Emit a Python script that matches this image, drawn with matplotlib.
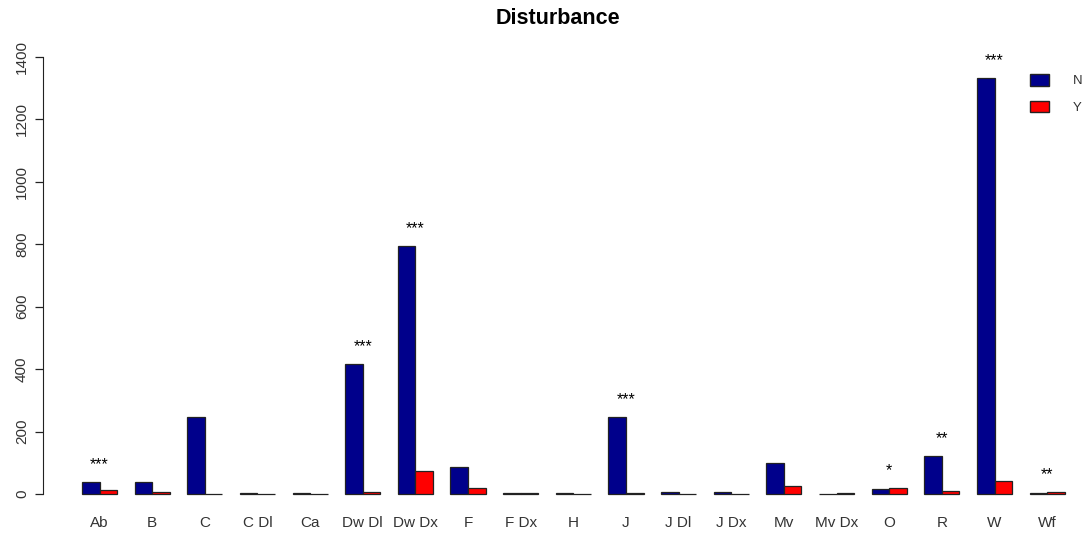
import numpy as np
import matplotlib.pyplot as plt
from matplotlib.patches import Patch

# values
categories = ["Ab", "B", "C", "C Dl", "Ca", "Dw Dl", "Dw Dx", "F", "F Dx", "H",
              "J", "J Dl", "J Dx", "Mv", "Mv Dx", "O", "R", "W", "Wf"]
n_values = [38, 38, 246, 2, 2, 416, 794, 88, 2, 2,
            246, 5, 8, 99, 0, 15, 122, 1334, 3]
y_values = [13, 6, 0, 0, 0, 6, 74, 19, 2, 0,
            2, 0, 0, 26, 2, 19, 10, 42, 6]
stars = ["***", "", "", "", "", "***", "***", "", "", "",
         "***", "", "", "", "", "*", "**", "***", "**"]
yticks = [0, 200, 400, 600, 800, 1000, 1200, 1400]

plt.rcParams['font.family'] = ['Liberation Sans', 'DejaVu Sans']

fig = plt.figure(figsize=(10.84, 5.34), dpi=100)
ax = fig.add_axes([43 / 1084, 0.0421, 1 - 43 / 1084, 0.884])

# R style barplot(beside=TRUE): each group = 1 unit gap + 2 bars
idx = np.arange(len(categories))
left_n = 3 * idx + 1
ax.bar(left_n, n_values, width=1, align='edge', color='#00008B',
       edgecolor='#222222', linewidth=0.9)
ax.bar(left_n + 1, y_values, width=1, align='edge', color='#FF0000',
       edgecolor='#222222', linewidth=0.9)

for i, s in enumerate(stars):
    if s:
        top = max(n_values[i], y_values[i])
        ax.text(3 * i + 2, top + 55, s, ha='center', va='center', fontsize=11.5, color='black')

ax.set_xlim(-1.22, 58.1)
ax.set_ylim(-56, 1456)

for sp in ['top', 'right', 'bottom']:
    ax.spines[sp].set_visible(False)
ax.spines['left'].set_bounds(0, 1400)
ax.spines['left'].set_color('#222222')

ax.set_yticks(yticks)
ax.set_yticklabels([str(t) for t in yticks], rotation=90, va='center', fontsize=11, color='#333333')
ax.tick_params(axis='y', length=6, width=0.9, color='#222222', pad=4)

ax.set_xticks(3 * idx + 2)
ax.set_xticklabels(categories, fontsize=11, color='#333333')
ax.tick_params(axis='x', length=0, pad=3)

handles = [Patch(facecolor='#00008B', edgecolor='#222222', label='N'),
           Patch(facecolor='#FF0000', edgecolor='#222222', label='Y')]
ax.legend(handles=handles, loc='upper left', bbox_to_anchor=(1030 / 1084, 1 - 74 / 534),
          bbox_transform=fig.transFigure, frameon=False, fontsize=9.5,
          borderpad=0, borderaxespad=0,
          handlelength=1.45, handleheight=1.0, handletextpad=1.8, labelspacing=1.0,
          labelcolor='#333333')

fig.text(558 / 1084, 1 - 18 / 534, "Disturbance", ha='center', va='center',
         fontsize=15.5, fontweight='bold')

plt.savefig("out.png", dpi=100, facecolor='white')
